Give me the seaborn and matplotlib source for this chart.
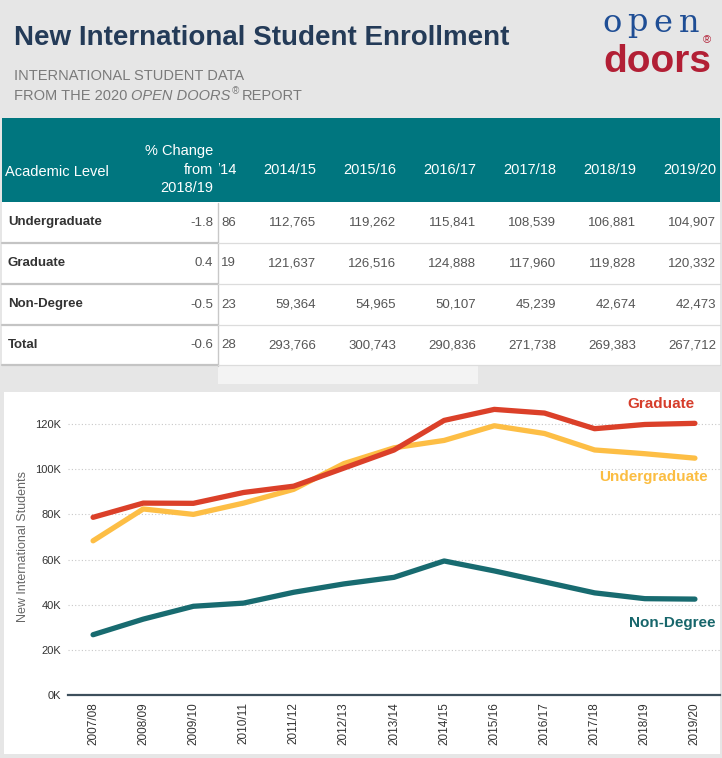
import matplotlib
matplotlib.use("Agg")
import matplotlib.pyplot as plt
import seaborn as sns
import pandas as pd
from matplotlib.patches import Rectangle
from matplotlib.lines import Line2D
from matplotlib.ticker import FuncFormatter
from matplotlib.transforms import Bbox, TransformedBbox

# ---- data ----
years = ["2007/08", "2008/09", "2009/10", "2010/11", "2011/12", "2012/13", "2013/14",
         "2014/15", "2015/16", "2016/17", "2017/18", "2018/19", "2019/20"]
undergrad = [68300, 82400, 80000, 85000, 91100, 102500, 109486,
             112765, 119262, 115841, 108539, 106881, 104907]
graduate = [78700, 85000, 84900, 89700, 92500, 100500, 108519,
            121637, 126516, 124888, 117960, 119828, 120332]
non_degree = [26700, 33600, 39300, 40700, 45500, 49200, 52123,
              59364, 54965, 50107, 45239, 42674, 42473]

levels = ["Undergraduate", "Graduate", "Non-Degree", "Total"]
pct_change = ["-1.8", "0.4", "-0.5", "-0.6"]
table_years = years[6:]
totals = [270128, 293766, 300743, 290836, 271738, 269383, 267712]

W, H = 722, 758
def fx(x):
    return x / W
def fy(y):
    return 1 - y / H

BG = "#e6e6e6"
TEAL_HDR = "#00767f"
sns.set_theme(style="white")
plt.rcParams["font.family"] = ["Liberation Sans", "DejaVu Sans"]

fig = plt.figure(figsize=(W / 100, H / 100), dpi=100)
fig.patch.set_facecolor(BG)

def rect(x0, y0, x1, y1, color, z=-5):
    fig.patches.append(Rectangle((fx(x0), fy(y1)), fx(x1) - fx(x0), fy(y0) - fy(y1),
                                 transform=fig.transFigure, color=color, zorder=z, lw=0))

def hline(x0, x1, y, color, lw):
    fig.lines.append(Line2D([fx(x0), fx(x1)], [fy(y), fy(y)], transform=fig.transFigure,
                            color=color, lw=lw, zorder=-2))

# ---- header ----
fig.text(fx(14), fy(45), "New International Student Enrollment", fontsize=20,
         fontweight="bold", color="#243b58")
sub = dict(fontsize=10.5, color="#7a7a7a")
fig.text(fx(14), fy(80.5), "INTERNATIONAL STUDENT DATA", **sub)
t1 = fig.text(fx(14), fy(100), "FROM THE 2020", **sub)
renderer = fig.canvas.get_renderer()
x_end = t1.get_window_extent(renderer).x1 + 4
t2 = fig.text(x_end / W, fy(100), "OPEN DOORS", style="italic", **sub)
x_end = t2.get_window_extent(renderer).x1 + 1
t3 = fig.text(x_end / W, fy(94), "®", fontsize=7, color="#7a7a7a", style="italic")
x_end = t3.get_window_extent(renderer).x1 + 3
fig.text(x_end / W, fy(100), "REPORT", **sub)

# logo
for ch, cx in zip("open", [612.5, 637.5, 663, 689]):
    fig.text(fx(cx), fy(31.5), ch, fontsize=23, family="DejaVu Serif", color="#1f4e95",
             ha="center", va="baseline")
fig.text(fx(603), fy(72), "doors", fontsize=28, fontweight="bold",
         color="#b21f35", va="baseline")
fig.text(fx(707), fy(40), "®", fontsize=8, color="#b21f35", ha="center", va="center")

# ---- table ----
rect(2, 118, 720, 202.5, TEAL_HDR)
rect(2, 202.5, 720, 366, "white")
rect(218, 366, 478, 384, "#f3f3f3")
fig.lines.append(Line2D([fx(218), fx(218)], [fy(202.5), fy(366)], transform=fig.transFigure,
                        color="#c8c8c8", lw=1, zorder=-2))
for yl in [242.5, 283.5, 324.5, 365.5]:
    hline(2, 218, yl, "#c4c4c4", 1.6)
    hline(218, 720, yl, "#dcdcdc", 0.9)

hdr = dict(fontsize=10.5, color="white")
fig.text(fx(5), fy(172.5), "Academic Level", va="center", **hdr)
fig.text(fx(213), fy(151.5), "% Change", ha="right", va="center", **hdr)
fig.text(fx(213), fy(170), "from", ha="right", va="center", **hdr)
fig.text(fx(213), fy(188), "2018/19", ha="right", va="center", **hdr)

clip = TransformedBbox(Bbox([[fx(219), 0], [1, 1]]), fig.transFigure)
col_right = [236 + 80 * i for i in range(len(table_years))]
for i, (yr, xr) in enumerate(zip(table_years, col_right)):
    # first column is scrolled under the frozen column, only its tail shows
    label = yr[-3:] if i == 0 else yr
    t = fig.text(fx(xr), fy(170), label, ha="right", va="center", **hdr)
    t.set_clip_box(clip)
    t.set_clip_on(True)

table_rows = [undergrad[6:], graduate[6:], non_degree[6:], totals]
row_y = [222.5, 263.5, 304.5, 345.5]
for lvl, pc, vals, ry in zip(levels, pct_change, table_rows, row_y):
    fig.text(fx(8), fy(ry), lvl, fontsize=9.5, fontweight="bold", color="#333333", va="center")
    fig.text(fx(213), fy(ry), pc, fontsize=9.5, color="#555555", ha="right", va="center")
    for i, (v, xr) in enumerate(zip(vals, col_right)):
        s = f"{v:,}"
        if i == 0:
            s = s[-2:]
        fig.text(fx(xr), fy(ry), s, fontsize=9.5, color="#555555", ha="right", va="center")

# ---- chart ----
rect(4, 392, 720, 754, "white", z=-10)
ax = fig.add_axes([fx(68), fy(695), fx(720) - fx(68), fy(397) - fy(695)])
ax.set_facecolor("none")

df = pd.DataFrame({
    "year": years * 3,
    "students": undergrad + graduate + non_degree,
    "level": ["Undergraduate"] * 13 + ["Graduate"] * 13 + ["Non-Degree"] * 13,
})
df["pos"] = df["year"].map({y: i for i, y in enumerate(years)})
palette = {"Undergraduate": "#fdbe45", "Graduate": "#db4029", "Non-Degree": "#186b70"}
sns.lineplot(data=df, x="pos", y="students", hue="level", palette=palette,
             hue_order=["Undergraduate", "Non-Degree", "Graduate"],
             linewidth=3.8, legend=False, ax=ax, solid_capstyle="round")

ax.set_xlim(-0.5, 12.5)
ax.set_ylim(0, 132000)
ax.set_xticks(range(len(years)))
ax.set_xticklabels(years, rotation=90, fontsize=8.5, color="#333333")
ax.set_yticks(range(0, 120001, 20000))
ax.yaxis.set_major_formatter(FuncFormatter(lambda v, p: f"{int(v / 1000)}K"))
ax.tick_params(axis="y", length=0, pad=5, labelsize=8, labelcolor="#333333")
ax.tick_params(axis="x", length=0, pad=5)
ax.grid(axis="y", color="#c8c8c8", linestyle=(0, (1, 2)), linewidth=0.8)
ax.set_axisbelow(True)
for s in ["top", "right", "left"]:
    ax.spines[s].set_visible(False)
ax.spines["bottom"].set_color("#3d4f5c")
ax.spines["bottom"].set_linewidth(1.6)
ax.set_xlabel("")
ax.set_ylabel("New International Students", fontsize=9, color="#666666", labelpad=4.5)

fig.text(fx(695), fy(404), "Graduate", fontsize=11, fontweight="bold", color="#d63d2b",
         ha="right", va="center")
fig.text(fx(708), fy(477), "Undergraduate", fontsize=11, fontweight="bold", color="#fbbd42",
         ha="right", va="center")
fig.text(fx(715), fy(622.5), "Non-Degree", fontsize=11, fontweight="bold", color="#17666b",
         ha="right", va="center")

fig.savefig("out.png", dpi=100, facecolor=BG)
